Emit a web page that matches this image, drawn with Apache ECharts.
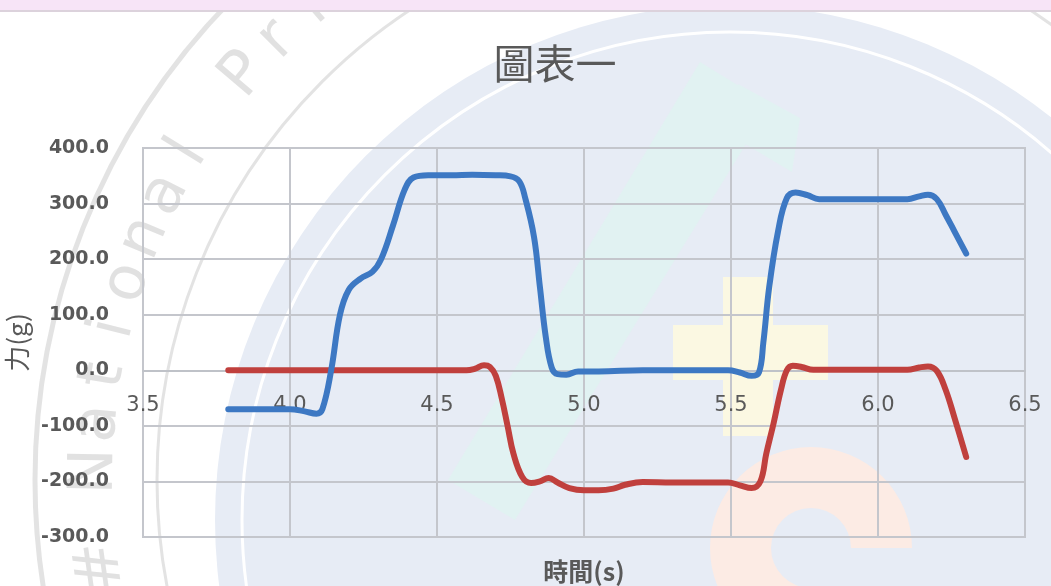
<!DOCTYPE html>
<html>
<head>
<meta charset="utf-8">
<script src="https://cdn.jsdelivr.net/npm/echarts@6/dist/echarts.min.js"></script>
<style>
  html, body { margin: 0; padding: 0; background: #ffffff; }
  #chart { width: 1051px; height: 586px; }
</style>
</head>
<body>
<div id="chart"></div>
<script>
// Time samples (s) and measured force (g) for the two traces
const blueTime = [3.79, 3.9, 4.0, 4.05, 4.09, 4.11, 4.14, 4.17, 4.20, 4.24, 4.28, 4.31, 4.35, 4.39, 4.42, 4.47,
  4.55, 4.62, 4.70, 4.75, 4.78, 4.80, 4.83, 4.85, 4.87, 4.89, 4.91, 4.94, 4.98, 5.05, 5.2, 5.35, 5.49, 5.53,
  5.57, 5.595, 5.61, 5.63, 5.66, 5.69, 5.72, 5.76, 5.80, 5.9, 6.0, 6.10, 6.14, 6.17, 6.20, 6.23, 6.26, 6.30];
const blueForce = [-70, -70, -70, -74, -78, -70, 0, 100, 145, 165, 177, 200, 260, 325, 347, 351,
  351, 352, 351, 349, 340, 310, 240, 150, 60, 5, -7, -8, -2, -2, 0, 0, 0, -4,
  -10, -4, 50, 150, 250, 310, 320, 315, 308, 308, 308, 308, 313, 316, 308, 280, 250, 210];

const redTime = [3.79, 4.0, 4.3, 4.6, 4.63, 4.66, 4.68, 4.70, 4.72, 4.74, 4.76, 4.79, 4.82, 4.85, 4.88, 4.91,
  4.95, 5.0, 5.05, 5.10, 5.14, 5.20, 5.3, 5.4, 5.49, 5.53, 5.57, 5.60, 5.62, 5.645, 5.67, 5.69, 5.71, 5.74,
  5.78, 5.9, 6.0, 6.10, 6.14, 6.17, 6.20, 6.23, 6.26, 6.30];
const redForce = [0, 0, 0, 0, 3, 9, 6, -10, -50, -100, -150, -192, -203, -200, -194, -202,
  -212, -216, -216, -213, -206, -201, -202, -202, -202, -207, -212, -200, -150, -95, -35, 0, 8, 6,
  1, 1, 1, 1, 5, 7, -1, -35, -85, -156];

// Axis ranges and tick step
const xMin = 3.5, xMax = 6.5, xStep = 0.5;
const yMin = -300, yMax = 400, yStep = 100;

const titleText = '圖表一';
const xName = '時間(s)';
const yName = '力(g)';

function pairs(xs, ys) { return xs.map((x, i) => [x, ys[i]]); }

// Plot box in pixels
const gridTop = 148, gridBottom = 49, gridLeft = 143, gridRight = 26;
const plotHeight = 586 - gridTop - gridBottom;
// Lift the time axis from the bottom edge up to the force = 0 line
const zeroLift = plotHeight * (0 - yMin) / (yMax - yMin);

// Faint background emblem (seal rings, letters and coloured shapes)
const emblemText = '# National Printing';
const emblem = [];
emblem.push({ type: 'rect', shape: { x: 0, y: 0, width: 1051, height: 10 }, style: { fill: '#F7E4F7' }, z: -20 });
emblem.push({ type: 'line', shape: { x1: 0, y1: 11, x2: 1051, y2: 11 }, style: { stroke: '#DCD2DC', lineWidth: 2 }, z: -20 });
emblem.push({ type: 'circle', shape: { cx: 730, cy: 520, r: 515 }, style: { fill: '#E7ECF5' }, z: -30 });
emblem.push({ type: 'circle', shape: { cx: 730, cy: 520, r: 488 }, style: { fill: null, stroke: '#FFFFFF', lineWidth: 3 }, z: -29 });
emblem.push({ type: 'polygon', shape: { points: [[700, 62], [770, 105], [515, 520], [448, 480]] }, style: { fill: '#E1F2F2' }, z: -28 });
emblem.push({ type: 'polygon', shape: { points: [[738, 84], [800, 118], [792, 172], [730, 135]] }, style: { fill: '#E1F2F2' }, z: -28 });
emblem.push({ type: 'rect', shape: { x: 723, y: 277, width: 50, height: 159 }, style: { fill: '#FBF8E2' }, z: -27 });
emblem.push({ type: 'rect', shape: { x: 673, y: 325, width: 155, height: 55 }, style: { fill: '#FBF8E2' }, z: -27 });
emblem.push({ type: 'sector', shape: { cx: 811, cy: 548, r: 101, r0: 40, startAngle: Math.PI / 2, endAngle: Math.PI * 2, clockwise: true }, style: { fill: '#FCEBE4' }, z: -27 });
emblem.push({ type: 'circle', shape: { cx: 720, cy: 480, r: 563 }, style: { fill: null, stroke: 'rgba(185,185,185,0.4)', lineWidth: 3 }, z: -26 });
emblem.push({ type: 'circle', shape: { cx: 720, cy: 480, r: 685 }, style: { fill: null, stroke: 'rgba(185,185,185,0.4)', lineWidth: 5 }, z: -26 });
for (let i = 0; i < emblemText.length; i++) {
  const ch = emblemText[i];
  if (ch === ' ') continue;
  const deg = 172 + i * 4.4;
  const a = deg * Math.PI / 180;
  emblem.push({
    type: 'text', x: 720 + 624 * Math.cos(a), y: 480 + 624 * Math.sin(a),
    rotation: -(deg + 90) * Math.PI / 180,
    style: { text: ch, fontSize: 62, fontFamily: 'DejaVu Sans', fill: 'rgba(175,175,175,0.38)', align: 'center', verticalAlign: 'middle' },
    z: -26
  });
}

const chart = echarts.init(document.getElementById('chart'), null, { renderer: 'canvas' });
chart.setOption({
  animation: false,
  backgroundColor: '#ffffff',
  graphic: { elements: emblem },
  title: {
    text: titleText,
    left: 550, top: 38, textAlign: 'center',
    textStyle: { fontSize: 41, fontWeight: 'normal', color: '#595959', fontFamily: 'Noto Sans CJK TC' }
  },
  grid: {
    left: gridLeft, right: gridRight, top: gridTop, bottom: gridBottom,
    outerBoundsMode: 'none', containLabel: false,
    show: true, borderColor: '#C4C6CC', borderWidth: 2
  },
  xAxis: {
    type: 'value', min: xMin, max: xMax, interval: xStep,
    position: 'bottom', offset: -zeroLift,
    axisLine: { onZero: false, lineStyle: { color: '#BFC2C8', width: 2 } },
    axisTick: { show: false },
    splitLine: { show: true, lineStyle: { color: '#C4C6CC', width: 2 } },
    axisLabel: { margin: 25, fontSize: 21, color: '#595959', fontFamily: 'DejaVu Sans', formatter: v => v.toFixed(1) },
    name: xName, nameLocation: 'middle', nameGap: 189,
    nameTextStyle: { fontSize: 25, fontWeight: 'bold', color: '#595959', fontFamily: 'Noto Sans CJK TC' }
  },
  yAxis: {
    type: 'value', min: yMin, max: yMax, interval: yStep,
    axisLine: { show: true, onZero: false, lineStyle: { color: '#C4C6CC', width: 2 } },
    axisTick: { show: false },
    splitLine: { show: true, lineStyle: { color: '#C4C6CC', width: 2 } },
    axisLabel: { margin: 34, fontSize: 19, fontWeight: 'bold', color: '#595959', fontFamily: 'DejaVu Sans', formatter: v => v.toFixed(1) },
    name: yName, nameLocation: 'middle', nameGap: 103, nameRotate: 90,
    nameTextStyle: { fontSize: 26, color: '#595959', fontFamily: 'Noto Sans CJK TC' }
  },
  series: [
    {
      name: 'F1', type: 'line', data: pairs(blueTime, blueForce), smooth: 0.4, showSymbol: false,
      lineStyle: { color: '#3D78C3', width: 6, cap: 'round', join: 'round' }, z: 3
    },
    {
      name: 'F2', type: 'line', data: pairs(redTime, redForce), smooth: 0.4, showSymbol: false,
      lineStyle: { color: '#C0403D', width: 6, cap: 'round', join: 'round' }, z: 2
    }
  ]
});
</script>
</body>
</html>
